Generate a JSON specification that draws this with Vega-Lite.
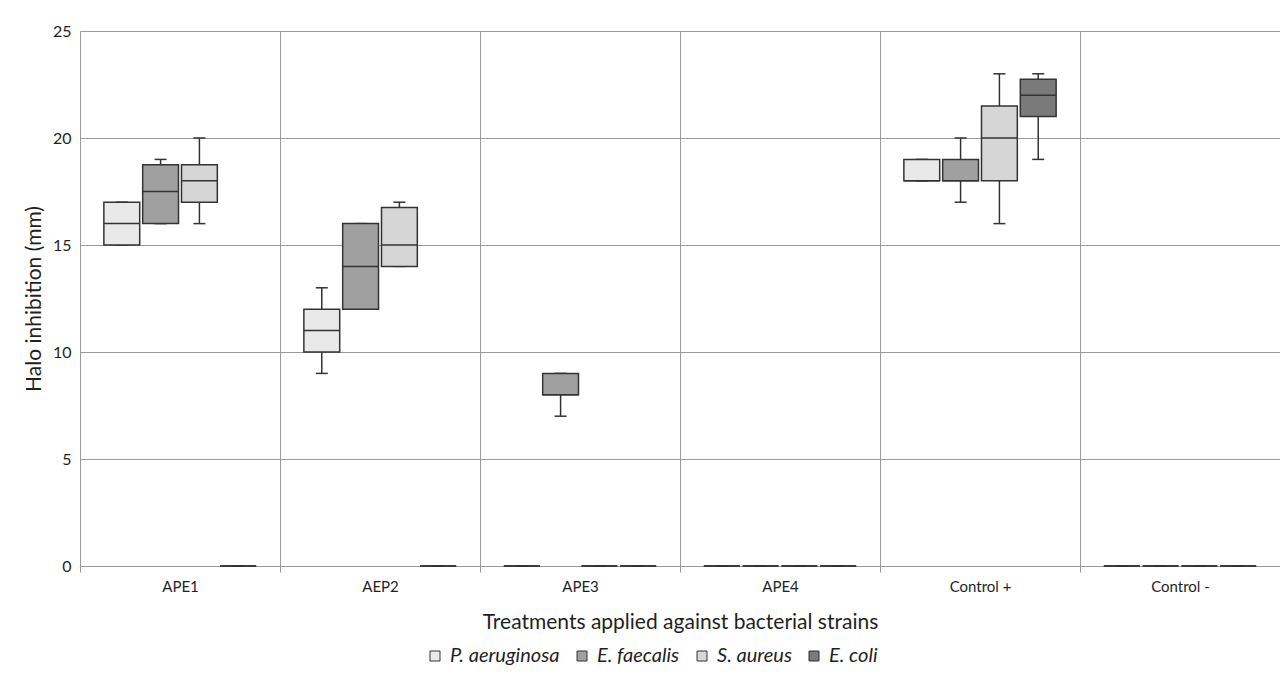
{
  "$schema": "https://vega.github.io/schema/vega-lite/v6.json",
  "width": 1200,
  "height": 535,
  "autosize": {"type": "none"},
  "padding": {"left": 80, "top": 31, "right": 0, "bottom": 116},
  "background": "white",
  "config": {
    "font": "Lato",
    "view": {"stroke": null}
  },
  "data": {
    "values": [
      {"treatment": "APE1", "strain": "P. aeruginosa", "min": 15, "q1": 15, "median": 16, "q3": 17, "max": 17},
      {"treatment": "APE1", "strain": "E. faecalis", "min": 16, "q1": 16, "median": 17.5, "q3": 18.75, "max": 19},
      {"treatment": "APE1", "strain": "S. aureus", "min": 16, "q1": 17, "median": 18, "q3": 18.75, "max": 20},
      {"treatment": "APE1", "strain": "E. coli", "min": 0, "q1": 0, "median": 0, "q3": 0, "max": 0},
      {"treatment": "AEP2", "strain": "P. aeruginosa", "min": 9, "q1": 10, "median": 11, "q3": 12, "max": 13},
      {"treatment": "AEP2", "strain": "E. faecalis", "min": 12, "q1": 12, "median": 14, "q3": 16, "max": 16},
      {"treatment": "AEP2", "strain": "S. aureus", "min": 14, "q1": 14, "median": 15, "q3": 16.75, "max": 17},
      {"treatment": "AEP2", "strain": "E. coli", "min": 0, "q1": 0, "median": 0, "q3": 0, "max": 0},
      {"treatment": "APE3", "strain": "P. aeruginosa", "min": 0, "q1": 0, "median": 0, "q3": 0, "max": 0},
      {"treatment": "APE3", "strain": "E. faecalis", "min": 7, "q1": 8, "median": 8, "q3": 9, "max": 9},
      {"treatment": "APE3", "strain": "S. aureus", "min": 0, "q1": 0, "median": 0, "q3": 0, "max": 0},
      {"treatment": "APE3", "strain": "E. coli", "min": 0, "q1": 0, "median": 0, "q3": 0, "max": 0},
      {"treatment": "APE4", "strain": "P. aeruginosa", "min": 0, "q1": 0, "median": 0, "q3": 0, "max": 0},
      {"treatment": "APE4", "strain": "E. faecalis", "min": 0, "q1": 0, "median": 0, "q3": 0, "max": 0},
      {"treatment": "APE4", "strain": "S. aureus", "min": 0, "q1": 0, "median": 0, "q3": 0, "max": 0},
      {"treatment": "APE4", "strain": "E. coli", "min": 0, "q1": 0, "median": 0, "q3": 0, "max": 0},
      {"treatment": "Control +", "strain": "P. aeruginosa", "min": 18, "q1": 18, "median": 18, "q3": 19, "max": 19},
      {"treatment": "Control +", "strain": "E. faecalis", "min": 17, "q1": 18, "median": 18, "q3": 19, "max": 20},
      {"treatment": "Control +", "strain": "S. aureus", "min": 16, "q1": 18, "median": 20, "q3": 21.5, "max": 23},
      {"treatment": "Control +", "strain": "E. coli", "min": 19, "q1": 21, "median": 22, "q3": 22.75, "max": 23},
      {"treatment": "Control -", "strain": "P. aeruginosa", "min": 0, "q1": 0, "median": 0, "q3": 0, "max": 0},
      {"treatment": "Control -", "strain": "E. faecalis", "min": 0, "q1": 0, "median": 0, "q3": 0, "max": 0},
      {"treatment": "Control -", "strain": "S. aureus", "min": 0, "q1": 0, "median": 0, "q3": 0, "max": 0},
      {"treatment": "Control -", "strain": "E. coli", "min": 0, "q1": 0, "median": 0, "q3": 0, "max": 0}
    ]
  },
  "encoding": {
    "x": {
      "field": "treatment",
      "type": "nominal",
      "sort": ["APE1", "AEP2", "APE3", "APE4", "Control +", "Control -"],
      "scale": {"paddingInner": 0, "paddingOuter": 0},
      "axis": {
        "title": "Treatments applied against bacterial strains",
        "titleFontSize": 21,
        "titleFontWeight": "normal",
        "titleColor": "#1f1f1f",
        "titlePadding": 17,
        "labelAngle": 0,
        "labelFontSize": 15,
        "labelColor": "#1f1f1f",
        "labelPadding": 7,
        "tickBand": "extent",
        "tickSize": 6,
        "tickColor": "#9a9a9a",
        "domainColor": "#9a9a9a",
        "grid": true,
        "gridColor": "#9a9a9a",
        "gridWidth": 1
      }
    },
    "xOffset": {
      "field": "strain",
      "type": "nominal",
      "sort": ["P. aeruginosa", "E. faecalis", "S. aureus", "E. coli"],
      "scale": {"paddingInner": 0.077, "paddingOuter": 0.615}
    }
  },
  "layer": [
    {
      "mark": {"type": "rule", "color": "#333333", "strokeWidth": 1.5},
      "encoding": {
        "y": {
          "field": "min",
          "type": "quantitative",
          "scale": {"domain": [0, 25], "nice": false},
          "axis": {
            "title": "Halo inhibition (mm)",
            "titleFontSize": 21,
            "titleFontWeight": "normal",
            "titleColor": "#1f1f1f",
            "titlePadding": 8,
            "values": [0, 5, 10, 15, 20, 25],
            "labelFontSize": 16,
            "labelColor": "#1f1f1f",
            "labelPadding": 9,
            "ticks": false,
            "domain": false,
            "grid": true,
            "gridColor": "#9a9a9a",
            "gridWidth": 1
          }
        },
        "y2": {"field": "max"}
      }
    },
    {
      "mark": {"type": "tick", "size": 12, "thickness": 1.5, "color": "#333333", "opacity": 1},
      "encoding": {"y": {"field": "min", "type": "quantitative"}}
    },
    {
      "mark": {"type": "tick", "size": 12, "thickness": 1.5, "color": "#333333", "opacity": 1},
      "encoding": {"y": {"field": "max", "type": "quantitative"}}
    },
    {
      "mark": {"type": "bar", "stroke": "#333333", "strokeWidth": 1.5, "opacity": 1},
      "encoding": {
        "y": {"field": "q1", "type": "quantitative"},
        "y2": {"field": "q3"},
        "fill": {
          "field": "strain",
          "type": "nominal",
          "sort": ["P. aeruginosa", "E. faecalis", "S. aureus", "E. coli"],
          "scale": {"range": ["#e9e9e9", "#a0a0a0", "#d6d6d6", "#7a7a7a"]},
          "legend": {
            "title": null,
            "orient": "none",
            "legendX": 345,
            "legendY": 615,
            "direction": "horizontal",
            "columns": 4,
            "symbolType": "square",
            "symbolSize": 100,
            "symbolStrokeColor": "#333333",
            "symbolStrokeWidth": 1,
            "symbolOpacity": 1,
            "labelFontSize": 20,
            "labelFontStyle": "italic",
            "labelColor": "#1f1f1f",
            "labelOffset": 5,
            "columnPadding": 12
          }
        }
      }
    },
    {
      "mark": {"type": "tick", "size": 36, "thickness": 1.5, "color": "#333333", "opacity": 1},
      "encoding": {"y": {"field": "median", "type": "quantitative"}}
    }
  ]
}
